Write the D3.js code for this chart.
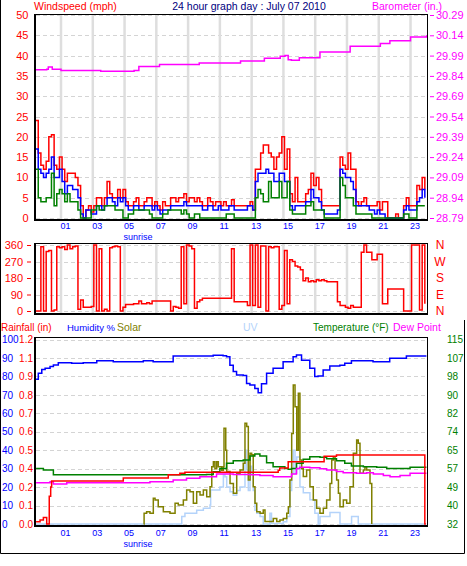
<!DOCTYPE html>
<html><head><meta charset="utf-8">
<script src="https://cdn.jsdelivr.net/npm/d3@7"></script>
<style>
html,body{margin:0;padding:0;background:#fff;}
svg{display:block;font-family:"Liberation Sans",Arial,sans-serif;}
</style></head><body>
<svg id="c" width="467" height="566"></svg>
<script>
// ---------- DATA ----------
const startHour = -0.6;          // first 10-minute sample (hours, relative to midnight)
const stepHour = 1 / 6;          // 10 minutes
const windGust = [24,16,13,12,14,20,20.5,13,12,15, 12,9,11,11,11,10,8,3,0,2, 3,1.5,3,5,5,3,5,9,6,5,
  5,7,5,7,4,3,3,4,5,3, 3,4,5,5,3,4,3,2,4,3, 3,5,5,4,5,5,6,4,5,5, 4,5,4,3,3,5,4,3,4,4, 3,4,
  3,3,4.5,3,3,3,3,3,3,4, 2,12,12,16,18,18,16,15,12,15, 16,20,12,17,6,4,10,4,4,4,
  6,7,11,8,10,7,3,3,3,3, 3,3,3,15,13,12,16,12,12,4, 3,4,5,3,3,3,3,4,2,4, 4,0,0,0,1,0,0,3,5,3, 3,3,8,7,10,7];
const windAvg = [17,12,11,10,11,12,15,10,10,12, 9,6,8,8,7,7,5,1,0,2, 2,1,1,3,3,2,3,5,5,4,
  3,5,4,5,3,2,2,3,3,2, 2,3,3,3,2,3,2,1,2,2, 2,3,3,3,3,3,4,3,3,3, 3,3,3,2,2,3,3,2,2,3, 2,2,
  2,3,3,2,2,2,2,2,3,3, 2,9,11,11,11,12,11,11,9,9, 11,11,9,9,3,2,3,3,3,3,
  4,4,7,5,5,4,2,1,1,1, 1,1,2,12,11,10,10,9,7,3, 3,3,3,3,2,2,1,2,1,1, 0,0,0,0,0,0,0,2,3,2, 2,2,4,5,7,5];
const windMin = [12,5,4,4,5,5,11,3,6,7, 6,4,6,4,4,4,2,0,0,0, 0,2,2,3,2,2,3,3,3,3,
  2,2,2,0,0,1,1,2,2,2, 2,2,2,1,0,0,0,0,1,1, 2,2,2,2,2,1,2,1,0,0, 1,1,0,0,0,0,0,0,0,0, 0,0,
  1,1,1,0,0,0,0,0,0,0, 0,5,7,6,4,4,9,5,5,5, 9,5,5,9,2,1,1,1,1,1,
  3,3,4,2,2,2,2,0,0,0, 0,0,0,10,8,5,5,5,3,1, 1,1,1,1,1,0,0,0,0,0, 0,0,0,0,0,0,0,1,1,0, 0,0,3,3,3,3];
const windDir = [0,0,350,0,325,330,0,5,350,345, 350,335,360,340,350,355,10,60,20,20,
  20,25,360,0,340,0,10,0,345,350, 355,350,0,20,35,35,35,40,40,55,
  40,40,45,40,55,55,55,55,55,55, 55,0,25,20,15,350,40,360,355,340,
  15,50,60,70,70,70,70,70,70,70, 70,70,70,70,340,50,50,50,50,50,
  30,360,30,360,20,355,355,0,350,345, 350,350,10,30,330,40,280,270,245,240,
  225,165,180,160,165,160,170,165,170,165, 160,160,160,160,50,30,30,20,15,30,
  20,20,20,320,360,320,320,280,280,310, 310,40,40,120,120,120,120,120,120,0, 0,0,360,360,360,5,360,40];

const baroHours  = [-0.6,0.1,0.2,0.3,0.45,1,3.5,5.6,5.9,7.2,9.7,12.3,13.8,14.8,15.1,15.3,15.5,16.0,17.3,19.2,21.1,21.7,23.0,24.0];
const baroValues = [29.886,29.89,29.905,29.905,29.89,29.88,29.875,29.88,29.91,29.925,29.935,29.95,29.97,29.985,29.99,29.96,29.955,29.975,30.017,30.06,30.08,30.10,30.128,30.14];

const humHours  = [-0.57,-0.43,-0.21,0,0.31,0.52,0.83,1.36,1.67,2.4,3.25,4.29,6.18,6.8,8.06,10.58,11.2,11.42,11.63,11.84,
  12.05,12.47,12.68,12.89,13.2,13.41,13.62,13.94,14.35,14.98,15.61,15.82,16.14,16.66,16.97,17.18,17.5,17.92,18.55,18.86,19.28,20.64,21.69,22.74,24.0];
const humValues = [78.4,81.7,83.8,84.4,85.3,86.2,87.4,87.4,87.1,87.4,88.5,88,88.5,88,91,91.4,91.2,90.7,86,82.6,
  80.8,80.5,76.2,75.3,73.5,71.2,76,81.7,84.4,88,90.7,91.6,88.8,84.4,79.9,80.2,83.5,85.6,86,87.1,88.5,88,89.8,91,91];

const tempHours  = [-0.57,-0.11,0.52,7.64,10.16,10.58,11.0,11.42,11.84,12.47,12.89,13.2,13.52,13.94,14.35,15.09,15.3,15.51,15.82,16.24,16.66,17.3,17.72,18.34,18.86,19.28,20.03,20.87,21.5,22.55,22.97,24.0];
const tempValues = [57.0,56.3,54.1,54.1,54.3,55.5,57,59.3,60.5,60.8,62.6,63.5,62.6,59.6,57.8,57,56.6,57,59.3,61.1,62.3,62,61.3,60.5,59.3,58.1,57.8,57.5,57,57,57.5,57.5];

const dewHours  = [-0.57,0.31,0.52,1.36,6.18,6.6,7.64,8.06,8.9,9.74,10.79,11.84,12.89,13.52,14.35,15.2,15.51,15.82,16.03,16.66,17.3,17.72,18.34,18.76,19.6,20.24,20.66,21.29,21.71,22.34,22.97,24.0];
const dewValues = [50.6,51,50,50.6,50.6,51,51,51.8,52.6,53.3,54.5,54.3,54.1,53.8,53.3,53.3,54.5,57,57.5,57.3,56.8,56.3,55.6,55.1,54.8,55.1,54.5,53.8,53.3,53.8,54.8,54.8];

const rainHours  = [-0.57,-0.32,-0.11,0.1,0.26,0.35,0.41,4.92,7.75,8.48,8.8,14.67,14.77,15.3,17.56,18.34,23.9,23.97];
const rainValues = [0.015,0.026,0.043,0,0.18,0.24,0.28,0.30,0.32,0.33,0.336,0.35,0.364,0.405,0.44,0.449,0,0];

const solarHours  = [6.2,6.23,6.39,6.6,6.81,6.92,7.12,7.44,7.86,8.18,8.38,8.7,8.91,9.12,9.33,9.54,9.75,9.96,10.17,10.38,10.49,10.59,10.69,10.8,10.9,11.12,11.22,11.26,11.37,11.43,11.64,
  11.85,12.06,12.27,12.47,12.58,12.69,12.79,12.9,13.0,13.1,13.21,13.32,13.53,13.73,13.84,14.15,14.36,14.58,14.78,14.99,15.21,15.31,15.41,15.52,15.62,15.73,15.84,15.94,16.04,16.15,16.25,16.46,16.67,16.88,17.09,17.3,17.51,17.72,17.93,18.04,18.14,18.25,18.35,18.46,18.56,18.77,18.98,19.19,19.4,19.61,19.71,19.82,20.03,20.13,20.24,20.45,20.56];
const solarValues = [0,58,67,58,139,130,94,67,58,112,103,130,184,175,112,175,157,184,148,202,310,338,300,338,310,292,310,519,400,284,220,
  166,275,293,329,546,528,238,383,375,202,112,67,58,76,13,13,30,13,22,30,58,94,238,490,753,636,400,708,347,300,257,293,202,130,85,58,85,130,220,347,365,293,238,166,94,130,112,202,383,455,437,275,293,310,293,220,0];

const uvHours  = [-0.57,8.49,8.6,8.8,9.54,9.96,10.38,10.42,11.0,11.22,11.32,11.43,11.64,11.84,12.06,12.27,12.58,12.69,12.79,12.9,13.0,13.1,13.21,13.32,13.53,13.73,14.15,14.25,14.99,15.21,15.41,15.52,15.62,15.73,15.84,16.04,16.25,16.67,16.98,17.19,17.3,17.93,18.56,19.29,19.71,24.0];
const uvValues = [0,0,0.64,0.93,1.2,1.36,1.65,2.94,3.2,4.26,4.1,3.2,2.8,2.5,2.9,3.2,6.4,4.7,2.9,5.0,4.4,2.9,1.2,0.93,0.64,0,0.93,0.05,0.2,0.64,2.9,4.4,6.4,4.4,5.8,3.2,2.7,2.1,0.93,0,0.64,1.0,0,0.64,0,0];

const hourTicks = [1,3,5,7,9,11,13,15,17,19,21,23];
const hourLabels = ["01","03","05","07","09","11","13","15","17","19","21","23"];
const sunriseHour = 5.85;
const windTicks = [0,5,10,15,20,25,30,35,40,45,50];
const baroTicks = [28.79,28.94,29.09,29.24,29.39,29.54,29.69,29.84,29.99,30.14,30.29];
const baroTickLabels = ["28.79","28.94","29.09","29.24","29.39","29.54","29.69","29.84","29.99","30.14","30.29"];
const dirTicks = [0,90,180,270,360];
const dirLetters = ["N","E","S","W","N"];
const humTicks = [0,10,20,30,40,50,60,70,80,90,100];
const rainTicks = [0,0.12,0.24,0.36,0.48,0.6,0.72,0.84,0.96,1.08,1.2];
const rainTickLabels = ["0.0","0.1","0.2","0.4","0.5","0.6","0.7","0.8","0.9","1.1","1.2"];
const tempTicks = [32,40.3,48.6,56.9,65.2,73.5,81.8,90.1,98.4,106.7,115];
const tempTickLabels = ["32","40","49","57","65","74","82","90","98","107","115"];

// ---------- DRAW ----------
const svg = d3.select("#c");
const C = {red:"#ff0000", blue:"#0000ff", green:"#008000", mag:"#ff00ff", olive:"#808000", uv:"#b4d3fa", navy:"#000080"};
const x = d3.scaleLinear().domain([-0.7, 24.1]).range([34, 428]);
const X0 = 34, X1 = 428;

const yWind = d3.scaleLinear([0,50],[218,15]);
const yBaro = d3.scaleLinear([28.79,30.29],[218,15]);
const yDir  = d3.scaleLinear([0,360],[311,245]);
const yHum  = d3.scaleLinear([0,100],[524,339.5]);
const yRain = d3.scaleLinear([0,1.2],[524,339.5]);
const yTemp = d3.scaleLinear([32,115],[524,339.5]);
const ySolar= d3.scaleLinear([0,1000],[524,339.5]);
const yUV   = d3.scaleLinear([0,16],[524,339.5]);

const panels = {top:[14,221], mid:[243,315], bot:[337,527]};
const defs = svg.append("defs");
Object.entries(panels).forEach(([k,[a,b]])=>{
  defs.append("clipPath").attr("id","clip-"+k).append("rect")
    .attr("x",X0+1).attr("y",a+1).attr("width",X1-X0-2).attr("height",b-a-2);
});

// outer frame
svg.append("path").attr("d","M0.5,0 V553.5 H464.5 V320").attr("fill","none").attr("stroke","#000").attr("stroke-width",1);

function background(key){
  const [a,b] = panels[key];
  svg.append("rect").attr("x",X0).attr("y",a).attr("width",X1-X0).attr("height",b-a).attr("fill","#fff");
}
function border(key){
  const [a,b] = panels[key];
  const g = svg.append("g");
  g.append("rect").attr("x",X0+0.5).attr("y",a+0.5).attr("width",X1-X0-1).attr("height",b-a-1)
    .attr("fill","none").attr("stroke","#000").attr("stroke-width",1);
  g.append("path").attr("d",`M${X0+1},${a} V${b-1} H${X1}`).attr("fill","none").attr("stroke","#000").attr("stroke-width",2);
}
function hgrid(key, scale, ticks){
  svg.append("g").selectAll("line").data(ticks).join("line")
    .attr("x1",X0+2).attr("x2",X1-2).attr("y1",d=>Math.round(scale(d))+0.5).attr("y2",d=>Math.round(scale(d))+0.5)
    .attr("stroke","#d4d4d4").attr("stroke-dasharray","4,3").attr("stroke-width",1);
}
function vgrid(key){
  const [a,b] = panels[key];
  svg.append("g").selectAll("line").data(hourTicks).join("line")
    .attr("x1",d=>x(d)).attr("x2",d=>x(d)).attr("y1",a+1).attr("y2",b-1)
    .attr("stroke","#dedede").attr("stroke-width",2.5);
}
function lineSeries(key, xs, ys, yScale, color, curve, w){
  const pts = xs.map((h,i)=>[h, ys[i]]);
  svg.append("path").datum(pts)
    .attr("clip-path",`url(#clip-${key})`)
    .attr("d", d3.line().x(d=>x(d[0])).y(d=>yScale(d[1])).curve(curve||d3.curveLinear))
    .attr("fill","none").attr("stroke",color).attr("stroke-width",w||1.5).attr("stroke-linejoin","miter");
}
const idxHours = arr => arr.map((_,i)=>startHour + i*stepHour);

function styleAxis(g, color, size, anchor){
  g.select(".domain").remove();
  g.selectAll("text").attr("fill",color).style("font-size",size+"px").style("font-family","'Liberation Sans',Arial,sans-serif");
  if(anchor) g.selectAll("text").attr("text-anchor",anchor);
  g.selectAll("line").attr("stroke",color);
}
function hourAxis(yPos, sunY){
  const g = svg.append("g").attr("transform",`translate(0,${yPos})`)
    .call(d3.axisBottom(x).tickValues(hourTicks).tickFormat((d,i)=>hourLabels[i]).tickSize(0).tickPadding(3));
  styleAxis(g, C.blue, 9, "start");
  g.selectAll("text").attr("x",-1);
  svg.append("text").attr("x",x(sunriseHour)).attr("y",sunY).attr("text-anchor","middle")
    .attr("fill",C.blue).style("font-size","9px").text("sunrise");
}

// ---------- TOP PANEL ----------
background("top");
hgrid("top", yWind, windTicks);
vgrid("top");
lineSeries("top", idxHours(windGust), windGust, yWind, C.red, d3.curveStepAfter, 1.5);
lineSeries("top", idxHours(windAvg), windAvg, yWind, C.blue, d3.curveStepAfter, 1.5);
lineSeries("top", idxHours(windMin), windMin, yWind, C.green, d3.curveStepAfter, 1.5);
lineSeries("top", baroHours, baroValues, yBaro, C.mag, d3.curveStepAfter, 1.5);
border("top");
styleAxis(svg.append("g").attr("transform","translate(28.5,0)")
  .call(d3.axisLeft(yWind).tickValues(windTicks).tickSize(0).tickPadding(0)), C.red, 11);
styleAxis(svg.append("g").attr("transform","translate(430,0)")
  .call(d3.axisRight(yBaro).tickValues(baroTicks).tickFormat((d,i)=>baroTickLabels[i]).tickSize(4).tickPadding(2)), C.mag, 11);
hourAxis(220, 239.6);

svg.append("text").attr("x",34).attr("y",10).attr("fill",C.red).style("font-size","10.5px").text("Windspeed (mph)");
svg.append("text").attr("x",249).attr("y",10).attr("text-anchor","middle").attr("fill",C.navy).style("font-size","10.5px").text("24 hour graph day : July 07 2010");
svg.append("text").attr("x",372).attr("y",10).attr("fill",C.mag).style("font-size","10.5px").text("Barometer (in.)");

// ---------- MIDDLE PANEL ----------
background("mid");
hgrid("mid", yDir, dirTicks);
vgrid("mid");
lineSeries("mid", idxHours(windDir), windDir, yDir, C.red, d3.curveStepAfter, 1.5);
border("mid");
styleAxis(svg.append("g").attr("transform","translate(31,0)")
  .call(d3.axisLeft(yDir).tickValues(dirTicks).tickSize(4).tickPadding(4)), C.red, 11);
styleAxis(svg.append("g").attr("transform","translate(440,0)")
  .call(d3.axisRight(yDir).tickValues(dirTicks).tickFormat((d,i)=>dirLetters[i]).tickSize(0).tickPadding(0)), C.red, 12, "middle");

// ---------- BOTTOM PANEL ----------
background("bot");
hgrid("bot", yHum, humTicks);
lineSeries("bot", uvHours, uvValues, yUV, C.uv, d3.curveStepAfter, 1.5);
lineSeries("bot", solarHours, solarValues, ySolar, C.olive, d3.curveStepAfter, 1.5);
lineSeries("bot", tempHours, tempValues, yTemp, C.green, d3.curveStepAfter, 1.5);
lineSeries("bot", dewHours, dewValues, yTemp, C.mag, d3.curveStepAfter, 1.5);
lineSeries("bot", rainHours, rainValues, yRain, C.red, d3.curveStepAfter, 1.5);
lineSeries("bot", humHours, humValues, yHum, C.blue, d3.curveStepAfter, 1.5);
border("bot");
styleAxis(svg.append("g").attr("transform","translate(2,0)")
  .call(d3.axisRight(yHum).tickValues(humTicks).tickSize(0).tickPadding(0)), C.blue, 10);
styleAxis(svg.append("g").attr("transform","translate(33,0)")
  .call(d3.axisLeft(yRain).tickValues(rainTicks).tickFormat((d,i)=>rainTickLabels[i]).tickSize(0).tickPadding(0)), C.red, 10);
styleAxis(svg.append("g").attr("transform","translate(447,0)")
  .call(d3.axisRight(yTemp).tickValues(tempTicks).tickFormat((d,i)=>tempTickLabels[i]).tickSize(0).tickPadding(0)), C.green, 10);
hourAxis(527, 546.8);

// bottom header: each coloured word group placed at its own x
const hdrLabels = ["Rainfall (in)","Humidity %","Solar","UV","Temperature (°F)","Dew Point"];
const hdrColors = [C.red, C.blue, C.olive, C.uv, C.green, C.mag];
const hdrX = [1, 67, 117, 243, 313, 393];
const hdrSize = [10, 9.5, 10.5, 10.5, 10, 10.5];
svg.append("g").selectAll("text").data(hdrLabels).join("text")
  .attr("x",(d,i)=>hdrX[i]).attr("y",330.5).attr("fill",(d,i)=>hdrColors[i])
  .style("font-size",(d,i)=>hdrSize[i]+"px").text(d=>d);
</script>
</body></html>
